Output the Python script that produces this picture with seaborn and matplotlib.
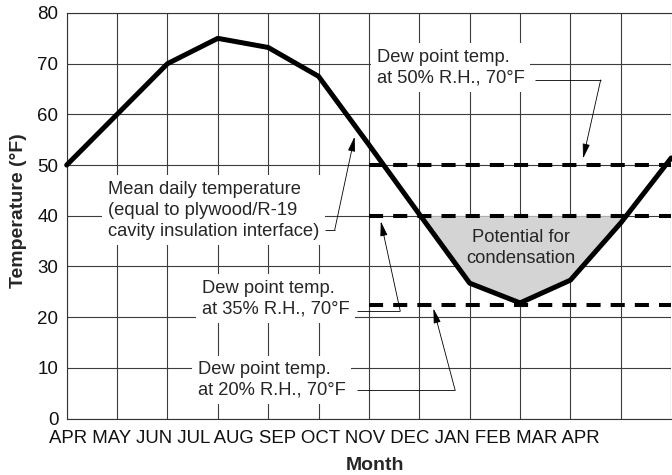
import matplotlib
matplotlib.use('Agg')
import matplotlib.pyplot as plt
import seaborn as sns
import pandas as pd
import numpy as np

# ---- data ----
months = ['APR', 'MAY', 'JUN', 'JUL', 'AUG', 'SEP', 'OCT', 'NOV', 'DEC',
          'JAN', 'FEB', 'MAR', 'APR']
mean_temp = [50, 60, 70, 75, 73.2, 67.5, 54, 40.3, 26.7, 22.8, 27.3, 38.6, 51.4]
dew_values = [50, 40, 22.3]
dew_labels = ['Dew point temp.\nat 50% R.H., 70°F',
              'Dew point temp.\nat 35% R.H., 70°F',
              'Dew point temp.\nat 20% R.H., 70°F']
mean_label = 'Mean daily temperature\n(equal to plywood/R-19\ncavity insulation interface)'
zone_label = 'Potential for\ncondensation'
y_ticks = [0, 10, 20, 30, 40, 50, 60, 70, 80]

sns.set_style('white')
plt.rcParams['font.family'] = ['Liberation Sans', 'DejaVu Sans']

W, H = 672, 475
fig = plt.figure(figsize=(W / 100, H / 100), dpi=100)
x0, x1, y0, y1 = 66.7, 671.2, 418.5, 13.0
ax = fig.add_axes([x0 / W, 1 - y0 / H, (x1 - x0) / W, (y0 - y1) / H])

idx = np.arange(len(months))
df = pd.DataFrame({'idx': idx, 'temp': mean_temp})

# grid
ax.set_xlim(0, 11.9)
ax.set_ylim(0, 80)
ax.set_xticks(idx)
ax.set_xticklabels([])
ax.set_yticks(y_ticks)
ax.set_yticklabels([str(v) for v in y_ticks])
ax.tick_params(axis='x', length=0)
ax.tick_params(axis='y', length=3, width=0.8, color='#333333', pad=3,
               labelsize=13.5, labelcolor='#111111')
ax.grid(True, color='#3c3c3c', lw=0.8)
ax.set_axisbelow(True)
for s in ['left', 'bottom', 'top']:
    ax.spines[s].set_color('#333333')
    ax.spines[s].set_linewidth(0.8)
ax.spines['right'].set_visible(False)

# condensation zone
t = np.array(mean_temp, dtype=float)
ax.fill_between(idx, t, dew_values[1], where=t <= dew_values[1],
                interpolate=True, color='#d4d4d4', lw=0, zorder=2)

# dew point lines
for v in dew_values:
    ax.plot([6, 12], [v, v], color='black', lw=2.9, dashes=(3.5, 2.5),
            dash_capstyle='butt', zorder=4)

# main line
sns.lineplot(data=df, x='idx', y='temp', color='black', lw=3.6, ax=ax,
             zorder=5, solid_capstyle='round', solid_joinstyle='round',
             clip_on=False)

box = dict(boxstyle='square,pad=0.3', fc='white', ec='none')
fs = 13.2
ls = 1.3
ax.text(6.15, 69.2, dew_labels[0], fontsize=fs, ha='left', va='center',
        bbox=box, zorder=3, linespacing=ls)
ax.text(0.815, 41.1, mean_label, fontsize=fs, ha='left', va='center',
        bbox=box, zorder=3, linespacing=ls)
ax.text(2.68, 23.6, dew_labels[1], fontsize=fs, ha='left', va='center',
        bbox=box, zorder=3, linespacing=ls)
ax.text(2.60, 7.6, dew_labels[2], fontsize=fs, ha='left', va='center',
        bbox=box, zorder=3, linespacing=ls)
ax.text(9.02, 33.6, zone_label, fontsize=fs, ha='center', va='center',
        zorder=6, linespacing=ls)

def leader(xs, ys, tip):
    ax.plot(xs, ys, color='black', lw=0.6, zorder=4, solid_capstyle='butt')
    ax.annotate('', xy=tip, xytext=(xs[-1], ys[-1]),
                arrowprops=dict(arrowstyle='-|>,head_length=0.9,head_width=0.22',
                                color='black', lw=0.6, shrinkA=0, shrinkB=0,
                                mutation_scale=10), zorder=4)

leader([9.30, 10.60], [66.8, 66.8], (10.25, 51.3))
leader([5.12, 5.32], [37.2, 37.2], (5.715, 55.6))
leader([5.755, 6.62], [21.26, 21.26], (6.235, 38.9))
leader([5.77, 7.71], [5.62, 5.62], (7.28, 21.7))

# month labels
ax.text(-0.348, -4.89, ' '.join(months), fontsize=13.45, ha='left',
        va='baseline', clip_on=False, color='#111111')

ax.set_xlabel('Month', fontsize=14, fontweight='bold')
ax.xaxis.label.set_va('baseline')
ax.xaxis.set_label_coords(0.51, -0.128)
ax.set_ylabel('Temperature (°F)', fontsize=14, fontweight='bold')
ax.yaxis.label.set_va('center')
ax.yaxis.set_label_coords(-0.0805, 0.512)

fig.savefig('out.png', dpi=100)
